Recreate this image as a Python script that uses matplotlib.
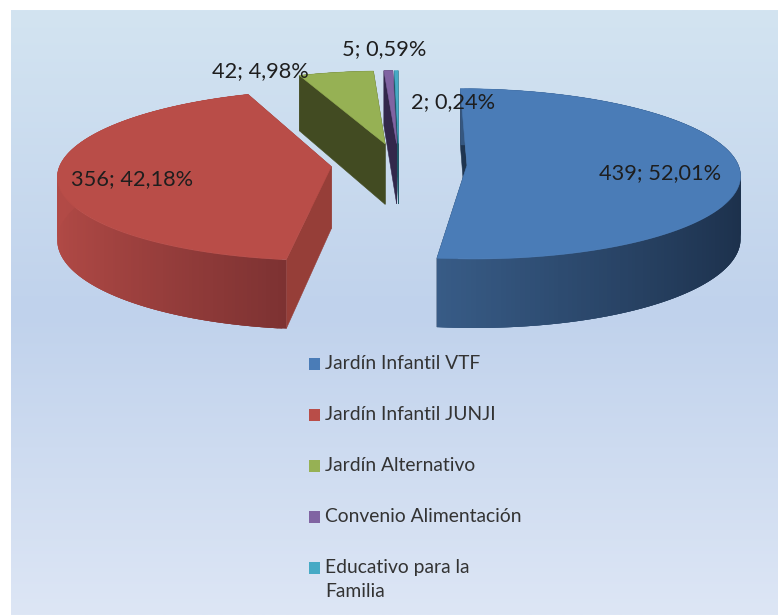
import numpy as np
import matplotlib
matplotlib.use('Agg')
import matplotlib.pyplot as plt
from matplotlib.colors import LinearSegmentedColormap
from matplotlib.patches import Polygon, Rectangle

categories = ['Jardín Infantil VTF', 'Jardín Infantil JUNJI', 'Jardín Alternativo',
              'Convenio Alimentación', 'Educativo para la\nFamilia']
values = [439, 356, 42, 5, 2]
pct_labels = ['52,01%', '42,18%', '4,98%', '0,59%', '0,24%']

top_colors = ['#4a7cb7', '#b94d48', '#96b154', '#8064a2', '#46aac5']
radial_colors = ['#1f3550', '#963e38', '#424b22', '#32284b', '#1f5a68']
# wall shading: colour at the left and right end of each slice's rim
wall_left = ['#385c87', '#b24a46', '#424b22', '#32284b', '#1f5a68']
wall_right = ['#1c304b', '#7d3232', '#424b22', '#32284b', '#1f5a68']

label_pos = [(599, 173), (71, 179), (212, 71), (342, 49), (411, 102)]

# pie layout in pixels
CX, CY = 399, 164
R = 271
TILT = 0.31
PERSP = 0.1
DEPTH = 62
EXPLODE = 68 / R
START = -0.1


def project(u, v):
    s = 1 / (1 - PERSP * v)
    return CX + R * u * s, CY + R * TILT * v * s, DEPTH * s


def hex_rgb(c):
    return np.array(matplotlib.colors.to_rgb(c))


fig = plt.figure(figsize=(7.78, 6.15), dpi=100)
ax = fig.add_axes([0, 0, 1, 1])
ax.axis('off')

# background gradient
bg = LinearSegmentedColormap.from_list('bg', [(0, '#d3e4f1'), (0.5, '#c0d2ec'), (1, '#dde6f5')])
ax.imshow(np.linspace(0, 1, 256).reshape(-1, 1), cmap=bg, aspect='auto',
          extent=(11, 778, 615, 10), zorder=0)
ax.set_xlim(0, 778)
ax.set_ylim(615, 0)

fracs = np.array(values) / sum(values)
starts = START + 360 * np.concatenate(([0], np.cumsum(fracs)[:-1]))
spans = 360 * fracs

# back slices first so the big ones sit in front
z = 1
for i in [4, 3, 2, 1, 0]:
    mid = np.radians(starts[i] + spans[i] / 2)
    ou, ov = EXPLODE * np.sin(mid), -EXPLODE * np.cos(mid)
    th = np.radians(np.linspace(starts[i], starts[i] + spans[i], 200))
    au, av = ou + np.sin(th), ov - np.cos(th)
    px, py, pd = project(au, av)
    cx, cy, cd = project(ou, ov)

    # the two cut faces
    for k in [-1, 0]:
        ax.add_patch(Polygon([(cx, cy), (px[k], py[k]), (px[k], py[k] + pd[k]), (cx, cy + cd)],
                             closed=True, fc=radial_colors[i], ec=radial_colors[i], lw=0.4, zorder=z))
    z += 1

    # rim, little overlapping quads so it can be shaded without seams
    sin_th = np.sin(th)
    for j in range(len(th) - 1):
        t = (sin_th[j] - sin_th.min()) / (sin_th.max() - sin_th.min())
        c = hex_rgb(wall_left[i]) * (1 - t) + hex_rgb(wall_right[i]) * t
        e = min(j + 3, len(th) - 1)
        ax.add_patch(Polygon(list(zip(px[j:e + 1], py[j:e + 1])) +
                             list(zip(px[j:e + 1][::-1], (py + pd)[j:e + 1][::-1])),
                             closed=True, fc=c, ec='none', lw=0, zorder=z + j * 0.001))
    z += 1

    # top face
    pts = [(cx, cy)] + list(zip(px, py))
    ax.add_patch(Polygon(pts, closed=True, fc=top_colors[i], ec=top_colors[i], lw=0.4, zorder=z))
    z += 1

# data labels
for i in range(len(values)):
    ax.text(label_pos[i][0], label_pos[i][1], f'{values[i]}; {pct_labels[i]}', fontsize=15.7,
            family='Lato', color='#1e1e1e', ha='left', va='center', zorder=50)

# legend
for i, name in enumerate(categories):
    y = 363.5 + 51 * i
    ax.add_patch(Rectangle((309, y - 5.5), 11.5, 11.5, fc=top_colors[i], ec='none', zorder=50))
    if '\n' in name:
        ax.text(325, y + 12, name, fontsize=13.9, family='Lato', color='#333333', ha='left',
                va='center', linespacing=1.45, zorder=50)
    else:
        ax.text(325, y, name, fontsize=13.9, family='Lato', color='#333333', ha='left',
                va='center', zorder=50)

fig.savefig('out.png', dpi=100)
